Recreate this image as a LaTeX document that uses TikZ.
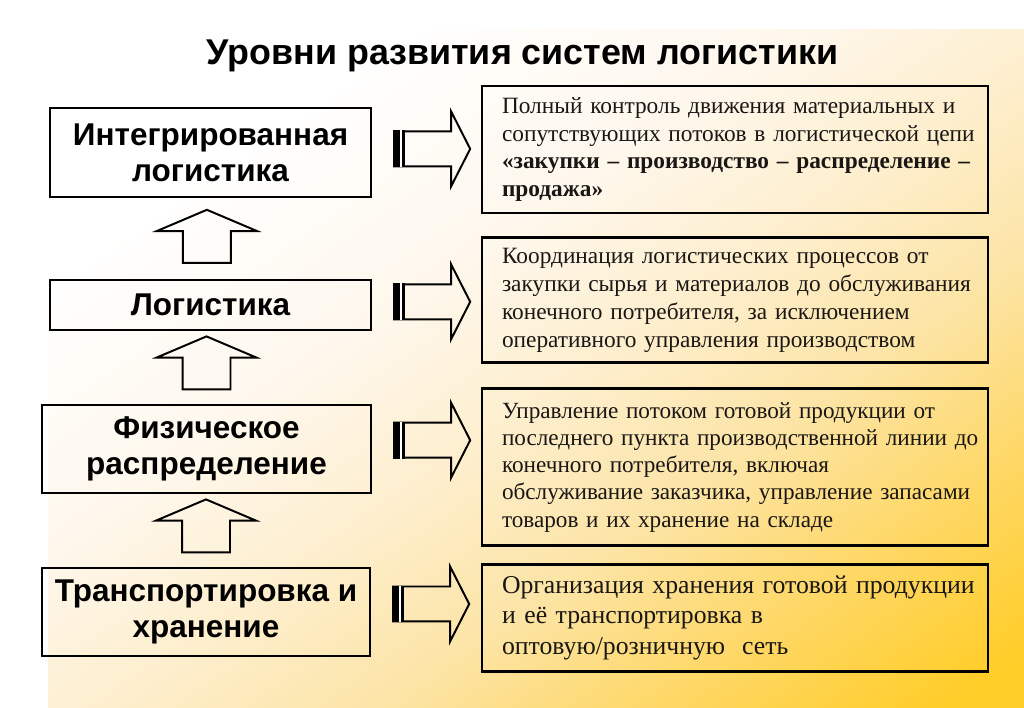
\documentclass[tikz,border=0pt]{standalone}
\usepackage{fontspec}
\setmainfont{Liberation Serif}
\setsansfont{Liberation Sans}
\usetikzlibrary{shapes.arrows, positioning, calc}
\definecolor{bgyellow}{RGB}{255,205,40}
\definecolor{bgdeep}{RGB}{254,215,100}
\definecolor{bglight}{RGB}{252,228,165}
\definecolor{bgpeach}{RGB}{253,238,205}
\definecolor{bgcream}{RGB}{254,247,236}
\definecolor{textdark}{RGB}{25,22,20}
\pgfdeclareverticalshading{slidebg}{100bp}{color(0bp)=(bgyellow); color(18bp)=(bgyellow); color(28bp)=(bgdeep); color(38bp)=(bglight); color(48bp)=(bgpeach); color(58bp)=(bgcream); color(72bp)=(white); color(100bp)=(white)}
\newcommand{\descindent}{\leftskip=0.375cm\relax}

\begin{document}
\begin{tikzpicture}[
        every node/.style={font=\small},
        levelbox/.style={rectangle, draw=black, line width=2pt, minimum width=8.025cm, align=center, inner sep=0pt, font=\sffamily\bfseries\fontsize{22.4}{25.6}\selectfont},
        descbox/.style={rectangle, draw=black, line width=2pt, minimum width=12.65cm, text width=12.4cm, align=left, inner xsep=0.125cm, inner ysep=0pt, text=textdark, font=\fontsize{16.6}{19.9}\selectfont},
        uparrow/.style={single arrow, draw=black, line width=1.4pt, rotate=90, anchor=tail, minimum height=1.325cm, inner xsep=0pt, inner ysep=0.575cm, single arrow head extend=0.65cm, single arrow tip angle=134},
        rightarrow/.style={single arrow, draw=black, line width=1.4pt, anchor=tail, minimum height=1.9cm, inner xsep=0pt, inner ysep=0.4125cm, single arrow head extend=0.5cm, single arrow tip angle=126}
    ]
        \useasboundingbox (0,0) rectangle (25.6,17.7);
        \fill[white] (0,0) rectangle (25.6,17.7);
        \shade[shading=slidebg, shading angle=35] (1.2,0) rectangle (25.6,16.95);

        \node[font=\sffamily\bfseries\fontsize{25.5}{30}\selectfont] (title) at (13.06,16.3) {Уровни развития систем логистики};

        % levels
        \node[levelbox, minimum height=2.225cm] (integ) at (5.2625,13.8875) {Интегрированная\\логистика};
        \node[levelbox, minimum height=1.25cm] (logist) at (5.2625,10.075) {Логистика};
        \node[levelbox, minimum width=8.225cm, minimum height=2.2cm] (phys) at (5.1625,6.475) {Физическое\\распределение};
        \node[levelbox, minimum width=8.2cm, minimum height=2.2cm] (trans) at (5.15,2.4) {Транспортировка и\\хранение};

        % descriptions
        \node[descbox, minimum height=3.175cm] (full) at (18.375,13.9625) {\descindent Полный контроль движения материальных и\\сопутствующих потоков в логистической цепи\\\textbf{«закупки – производство – распределение –}\\\textbf{продажа»}\par};
        \node[descbox, minimum height=3.125cm, below=0.55cm of full] (coord) {\descindent Координация логистических процессов от\\закупки сырья и материалов до обслуживания\\конечного потребителя, за исключением\\оперативного управления производством\par};
        \node[descbox, minimum height=3.925cm, below=0.575cm of coord, font=\fontsize{16.5}{19.4}\selectfont] (distr) {\descindent Управление потоком готовой продукции от\\последнего пункта производственной линии до\\конечного потребителя, включая\\обслуживание заказчика, управление запасами\\товаров и их хранение на складе\par};
        \node[descbox, minimum height=2.675cm, below=0.4cm of distr, font=\fontsize{18.3}{21.7}\selectfont] (store) {\descindent Организация хранения готовой продукции\\и её транспортировка в\\оптовую/розничную~~сеть\par};

        % arrows up
        \node[uparrow] (up1) at ([xshift=-0.09cm, yshift=0.37cm]logist.north) {};
        \node[uparrow] (up2) at ([yshift=0.33cm]phys.north) {};
        \node[uparrow] (up3) at ([yshift=0.33cm]trans.north) {};

        % arrows right
        \node[rightarrow] (ra1) at ([xshift=0.52cm, yshift=0.09cm]integ.east) {};
        \node[rightarrow] (ra2) at ([xshift=0.52cm, yshift=0.08cm]logist.east) {};
        \node[rightarrow] (ra3) at ([xshift=0.52cm, yshift=0.22cm]phys.east) {};
        \node[rightarrow] (ra4) at ([xshift=0.52cm, yshift=0.2cm]trans.east) {};
        \foreach \a in {ra1, ra2, ra3, ra4} {
            \fill[black] (\a.before tail) rectangle ([xshift=0.3cm]\a.after tail);
            \draw[white, line width=1.3pt] ([xshift=0.19cm]\a.before tail) -- ([xshift=0.19cm]\a.after tail);
        }
    \end{tikzpicture}
\end{document}
